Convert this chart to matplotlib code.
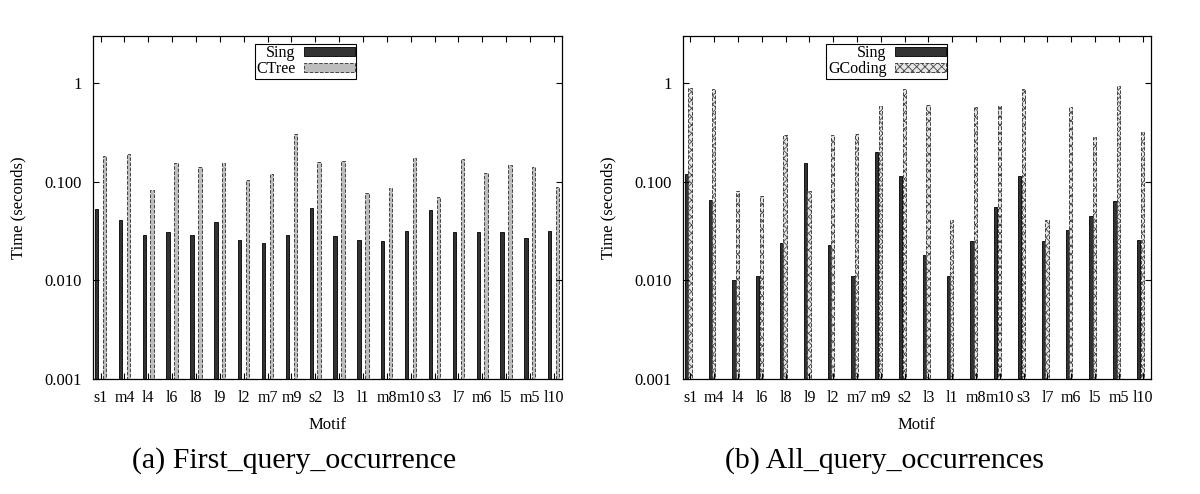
import numpy as np
import matplotlib
matplotlib.use("Agg")
import matplotlib.pyplot as plt

# data
motifs = ["s1", "m4", "l4", "l6", "l8", "l9", "l2", "m7", "m9", "s2",
          "l3", "l1", "m8", "m10", "s3", "l7", "m6", "l5", "m5", "l10"]

first_sing = [0.052, 0.040, 0.028, 0.0297, 0.028, 0.0378, 0.0248, 0.023, 0.028, 0.053,
              0.027, 0.0248, 0.0239, 0.0309, 0.0508, 0.0297, 0.0297, 0.0297, 0.0259, 0.0309]
first_ctree = [0.180, 0.188, 0.081, 0.155, 0.140, 0.155, 0.102, 0.118, 0.305, 0.159,
               0.163, 0.075, 0.0847, 0.172, 0.0687, 0.168, 0.122, 0.148, 0.141, 0.0867]

all_sing = [0.118, 0.0646, 0.00906, 0.010, 0.0232, 0.155, 0.0221, 0.010, 0.197, 0.114,
            0.017, 0.010, 0.0239, 0.054, 0.113, 0.0239, 0.0316, 0.0435, 0.063, 0.0248]
all_gcoding = [0.89, 0.87, 0.079, 0.0708, 0.298, 0.079, 0.298, 0.305, 0.585, 0.87,
               0.60, 0.0396, 0.575, 0.585, 0.87, 0.0396, 0.575, 0.285, 0.93, 0.317]

yticks = [0.001, 0.01, 0.1, 1]
ytick_labels = ["0.001", "0.010", "0.100", "1"]

plt.rcParams.update({
    "font.family": ["Liberation Serif", "DejaVu Serif"],
    "font.size": 11,
    "hatch.linewidth": 0.6,
    "axes.linewidth": 0.9,
})

fig = plt.figure(figsize=(12, 4.94), dpi=100)
ax_a = fig.add_axes([0.0775, 0.2328, 0.3908, 0.6942])
ax_b = fig.add_axes([0.569, 0.2328, 0.390, 0.6942])

x = np.arange(len(motifs))
w = 0.14


def style_axes(ax):
    ax.set_yscale("log")
    ax.set_ylim(0.001, 3.0)
    ax.set_xlim(-0.32, len(motifs) - 1 + 0.34)
    ax.set_yticks(yticks)
    ax.set_yticklabels(ytick_labels)
    ax.yaxis.set_minor_locator(matplotlib.ticker.NullLocator())
    ax.set_xticks(x)
    ax.set_xticklabels(motifs)
    ax.tick_params(direction="in", length=4, width=0.8, top=True, right=True)
    ax.tick_params(axis="x", pad=8, labelsize=11.5)
    ax.tick_params(axis="y", pad=8, labelsize=12)
    ax.set_ylabel("Time (seconds)", fontsize=12, labelpad=13)
    ax.set_xlabel("Motif", fontsize=12, labelpad=8)


# (a) first occurrence
ax_a.bar(x - 0.17, first_sing, width=w, bottom=0.001, color="#333333",
         edgecolor="black", linewidth=0.6, label="Sing")
ax_a.bar(x + 0.16, first_ctree, width=w, bottom=0.001, color="#bdbdbd",
         edgecolor="#444444", linewidth=0.7, linestyle="--", label="CTree")
style_axes(ax_a)
leg = ax_a.legend(loc="upper center", bbox_to_anchor=(0.453, 0.978), markerfirst=False,
                  fancybox=False, edgecolor="black", framealpha=1, fontsize=11.5,
                  handlelength=3.2, handleheight=0.5, labelspacing=0.0,
                  borderpad=0.1, handletextpad=0.5, borderaxespad=0)
leg.get_frame().set_linewidth(0.8)

# (b) all occurrences
ax_b.bar(x - 0.17, all_sing, width=w, bottom=0.001, color="#333333",
         edgecolor="black", linewidth=0.6, label="Sing")
ax_b.bar(x - 0.02, all_gcoding, width=w, bottom=0.001, color="#e6e6e6",
         edgecolor="#444444", linewidth=0.7, linestyle="--", hatch="xxxx",
         label="GCoding")
style_axes(ax_b)
leg = ax_b.legend(loc="upper center", bbox_to_anchor=(0.436, 0.978), markerfirst=False,
                  fancybox=False, edgecolor="black", framealpha=1, fontsize=11.5,
                  handlelength=3.2, handleheight=0.5, labelspacing=0.0,
                  borderpad=0.1, handletextpad=0.5, borderaxespad=0)
leg.get_frame().set_linewidth(0.8)

fig.text(0.245, 0.068, "(a) First_query_occurrence", ha="center", va="center",
         fontsize=21.5)
fig.text(0.737, 0.068, "(b) All_query_occurrences", ha="center", va="center",
         fontsize=21.5)

fig.savefig("out.png", dpi=100, facecolor="white")
